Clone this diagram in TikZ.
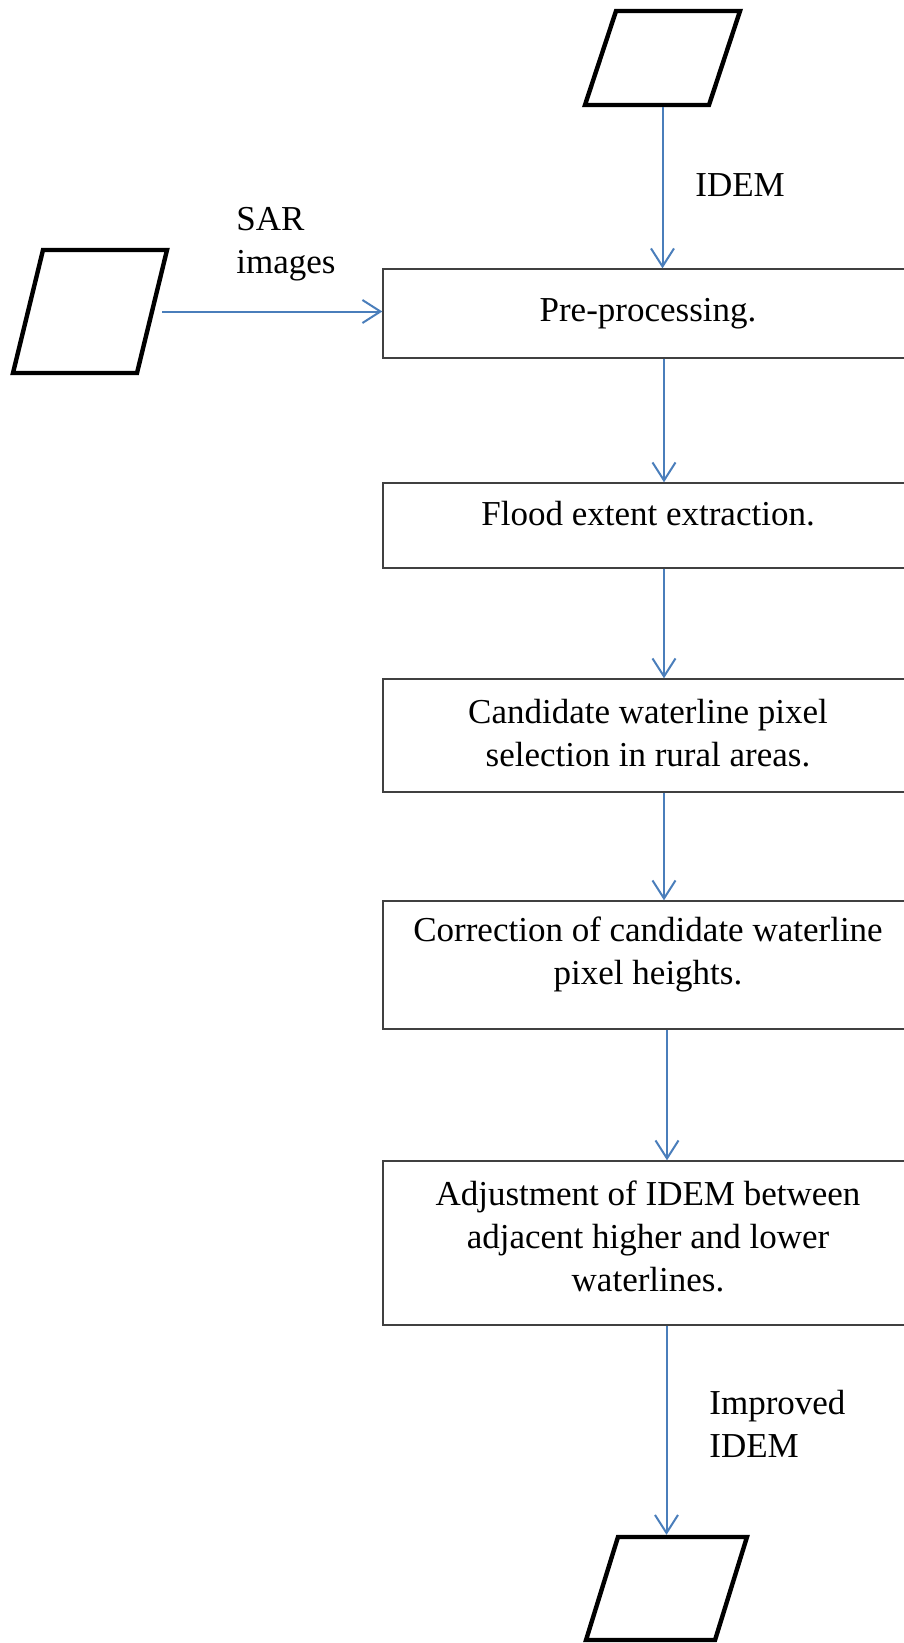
\documentclass[tikz,border=0pt]{standalone}
\usepackage{fontspec}
\setmainfont{Liberation Serif}
\usetikzlibrary{arrows.meta}
\definecolor{flowblue}{RGB}{74,126,187}
\definecolor{boxgray}{RGB}{64,64,64}
\begin{document}
\begin{tikzpicture}[x=0.5pt,y=-0.5pt,
    font=\fontsize{17.5}{21.5}\selectfont,
    procbox/.style={draw=boxgray,line width=0.7pt,minimum width=265pt,align=center,inner sep=0pt},
    datafile/.style={draw,line width=2.2pt,inner sep=0pt,transform shape},
    flow/.style={draw=flowblue,line width=1pt,-{Straight Barb[length=9pt,width=11.5pt]}}]
  \useasboundingbox (0,0) rectangle (904,1643);

  \node[datafile,xslant=0.33,minimum width=62pt,minimum height=47pt] (idem) at (662.5,58) {};
  \node[datafile,xslant=0.244,minimum width=62pt,minimum height=61.5pt] (sar) at (90,311.5) {};
  \node[datafile,xslant=0.31,minimum width=64.5pt,minimum height=51.5pt] (out) at (666.5,1588.5) {};

  \node[procbox,minimum height=44.5pt] (pre) at (648,313.5) {Pre-processing.};
  \node[procbox,minimum height=42.5pt,text depth=12.5pt] (flood) at (648,525.5) {Flood extent extraction.};
  \node[procbox,minimum height=56.5pt,text depth=3pt] (rural) at (648,735.5) {Candidate waterline pixel\\selection in rural areas.};
  \node[procbox,minimum height=64pt,text depth=14pt] (corr) at (648,965) {Correction of candidate waterline\\pixel heights.};
  \node[procbox,minimum height=82pt,text depth=6.5pt] (adjust) at (648,1243) {Adjustment of IDEM between\\adjacent higher and lower\\waterlines.};

  \node[anchor=west,inner sep=0pt] (idemlab) at (695,185) {IDEM};
  \node[anchor=west,align=left,inner sep=0pt] (sarlab) at (236,244) {SAR\\images};
  \node[anchor=west,align=left,inner sep=0pt] (outlab) at (709,1424) {Improved\\IDEM};

  \draw[flow] (idem.center |- idem.south) -- (pre.north -| idem.center);
  \draw[flow,shorten <=4pt] (sar.east) -- (pre.west |- sar.east);
  \draw[flow] ([xshift=8pt]pre.south) -- ([xshift=8pt]flood.north);
  \draw[flow] ([xshift=8pt]flood.south) -- ([xshift=8pt]rural.north);
  \draw[flow] ([xshift=8pt]rural.south) -- ([xshift=8pt]corr.north);
  \draw[flow] ([xshift=9.5pt]corr.south) -- ([xshift=9.5pt]adjust.north);
  \draw[flow] (adjust.south -| out.center) -- (out.center |- out.north);
\end{tikzpicture}
\end{document}
